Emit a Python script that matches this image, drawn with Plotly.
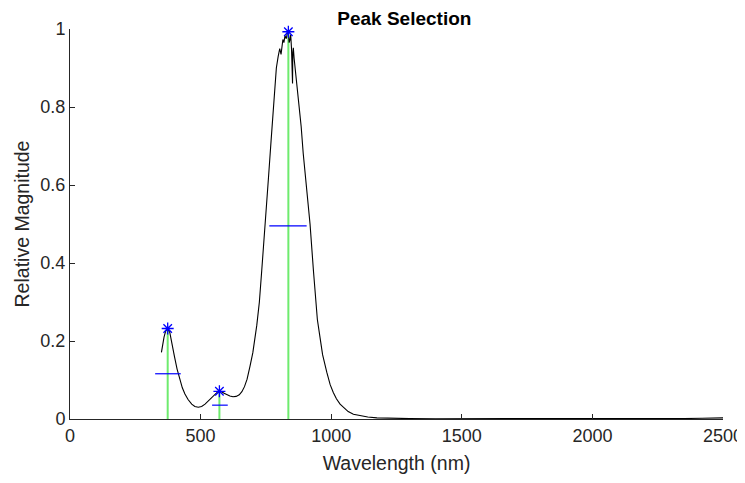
import plotly.graph_objects as go

# Spectrum (wavelength in nm, relative magnitude)
wavelength = [350, 355, 360, 366, 374, 382, 390, 400, 410, 421, 430, 440, 452, 466, 478,
              491, 504, 517, 530, 542, 556, 566, 572, 580, 590, 600, 612, 624, 636, 648,
              658, 668, 678, 689, 700, 715, 725, 734, 747, 760, 770, 779, 784, 790, 797,
              803, 808, 812, 815, 819, 823, 828, 832, 836, 839, 842, 845, 848, 850, 852,
              853, 855, 858, 861, 866, 871, 878, 885, 893, 906, 919, 932, 947, 957, 967,
              983, 996, 1008, 1020, 1034, 1047, 1065, 1085, 1111, 1140, 1175, 1220, 1300,
              1400, 1600, 1800, 2000, 2200, 2350, 2420, 2460, 2480, 2500]
magnitude = [0.171, 0.192, 0.210, 0.225, 0.232, 0.222, 0.198, 0.160, 0.128, 0.098, 0.080,
             0.064, 0.050, 0.038, 0.032, 0.030, 0.032, 0.038, 0.046, 0.055, 0.064, 0.070,
             0.071, 0.070, 0.066, 0.062, 0.059, 0.057, 0.058, 0.062, 0.070, 0.083, 0.102,
             0.135, 0.170, 0.240, 0.300, 0.380, 0.490, 0.620, 0.715, 0.800, 0.845, 0.900,
             0.930, 0.950, 0.935, 0.960, 0.973, 0.965, 0.983, 0.975, 0.990, 0.993, 0.965,
             0.972, 0.985, 0.950, 0.900, 0.860, 0.940, 0.952, 0.925, 0.905, 0.875, 0.845,
             0.800, 0.750, 0.680, 0.590, 0.500, 0.380, 0.255, 0.210, 0.165, 0.120, 0.088,
             0.068, 0.052, 0.038, 0.029, 0.019, 0.012, 0.008, 0.005, 0.003, 0.002, 0.001,
             0.0008, 0.0006, 0.0006, 0.0007, 0.0009, 0.0012, 0.0018, 0.0025, 0.0022, 0.003]

# Selected peaks
peak_wl = [374, 572, 836]
peak_mag = [0.232, 0.071, 0.993]
# Half-height width markers
half_left = [326, 544, 763]
half_right = [424, 604, 906]
half_mag = [0.116, 0.0355, 0.495]

fig = go.Figure()

# green stems
for w, m in zip(peak_wl, peak_mag):
    fig.add_trace(go.Scatter(x=[w, w], y=[0, m], mode="lines",
                             line=dict(color="#6EEB6E", width=2),
                             showlegend=False, hoverinfo="skip"))

fig.add_trace(go.Scatter(x=wavelength, y=magnitude, mode="lines",
                         line=dict(color="black", width=1.1),
                         showlegend=False))

# half-width lines
for a, b, m in zip(half_left, half_right, half_mag):
    fig.add_trace(go.Scatter(x=[a, b], y=[m, m], mode="lines",
                             line=dict(color="#0000FF", width=1.2),
                             showlegend=False, hoverinfo="skip"))

fig.add_trace(go.Scatter(x=peak_wl, y=peak_mag, mode="markers",
                         marker=dict(symbol="asterisk-open", size=10,
                                     line=dict(color="#0000FF", width=1.3),
                                     color="#0000FF"),
                         cliponaxis=False, showlegend=False))

axis_color = "#262626"
fig.update_layout(
    width=745, height=467,
    margin=dict(l=62, r=30, t=21, b=56),
    paper_bgcolor="white", plot_bgcolor="white",
    font=dict(family="Liberation Sans, Arial, sans-serif", size=18, color=axis_color),
    title=dict(text="<b>Peak Selection</b>", x=0.532, xanchor="center",
               y=0.9775, yanchor="middle",
               font=dict(size=19, color="black")),
)
fig.update_xaxes(range=[0, 2500], tickvals=[0, 500, 1000, 1500, 2000, 2500],
                 ticktext=["0", "500", "1000", "1500", "2000", "2500"],
                 ticks="inside", ticklen=5, tickwidth=1, tickcolor=axis_color,
                 showline=True, linecolor=axis_color, linewidth=1,
                 showgrid=False, zeroline=False, mirror=False, automargin=False,
                 title=dict(text="Wavelength (nm)", font=dict(size=19.5), standoff=11))
fig.update_yaxes(range=[0, 1], tickvals=[0, 0.2, 0.4, 0.6, 0.8, 1],
                 ticktext=["0", "0.2", "0.4", "0.6", "0.8", "1"],
                 ticks="inside", ticklen=5, tickwidth=1, tickcolor=axis_color,
                 showline=True, linecolor=axis_color, linewidth=1,
                 showgrid=False, zeroline=False, mirror=False, automargin=False,
                 title=dict(text="Relative Magnitude", font=dict(size=19.5), standoff=5))

fig.write_html("out.html")
